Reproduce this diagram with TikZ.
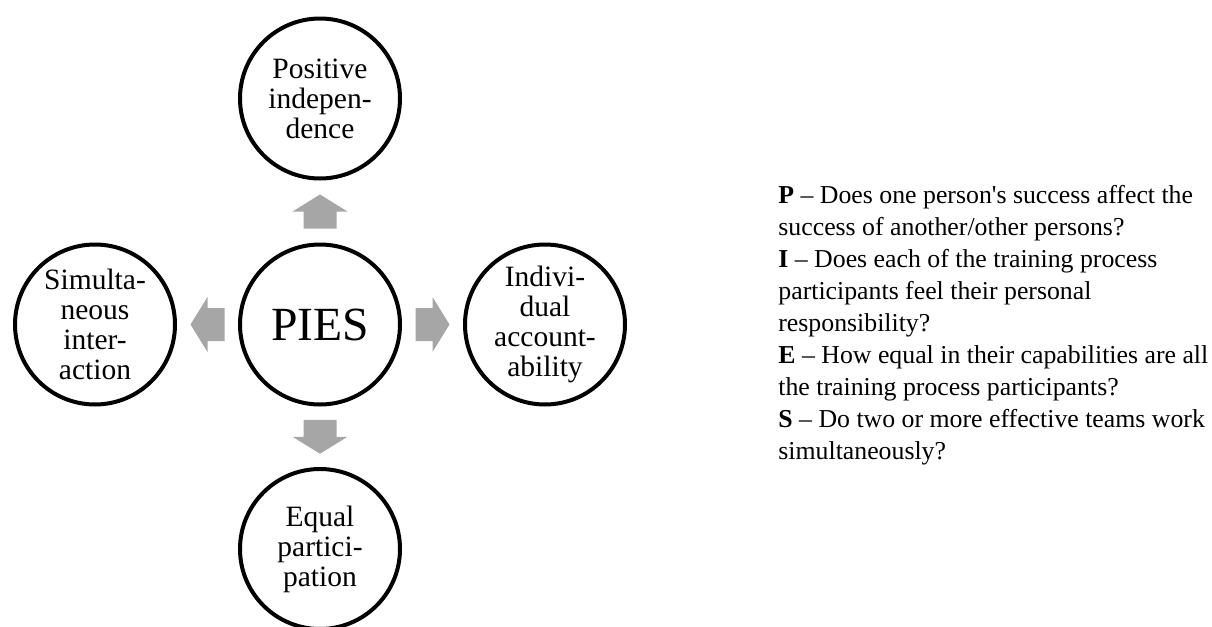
\documentclass[tikz,border=0pt]{standalone}
\usepackage{fontspec}
\setmainfont{Liberation Serif}
\usetikzlibrary{positioning, calc}

\definecolor{arrowgray}{RGB}{166,166,166}

\tikzset{
  part/.style={circle, draw=black, line width=2pt, fill=white, minimum size=80pt,
    inner sep=0pt, align=center, font=\fontsize{14.75}{15}\selectfont},
  hub/.style={part, font=\fontsize{23.8}{28}\selectfont},
  blockarrow/.style={fill=arrowgray}
}

\begin{document}
\begin{tikzpicture}[x=0.5pt, y=-0.5pt]
  \useasboundingbox (0,0) rectangle (1212,627);

  % circles
  \node[hub] (pies) at (320,324.5) {PIES};
  \node[part] (pos) at (320,98.5) {Positive\\indepen-\\dence};
  \node[part] (ind) at (545,324.5) {Indivi-\\dual\\account-\\ability};
  \node[part] (equ) at (320,549) {Equal\\partici-\\pation};
  \node[part] (sim) at (95,324.5) {Simulta-\\neous\\inter-\\action};

  % grey block arrows
  \foreach \dir/\ang in {pos/90, ind/0, equ/-90, sim/180}
    \fill[blockarrow, shift={($(pies)!0.5!(\dir)$)}, rotate=\ang]
      (-17,-16.5) -- (0,-16.5) -- (0,-27.5) -- (17,0) -- (0,27.5) -- (0,16.5) -- (-17,16.5) -- cycle;

  % questions (base = last line)
  \node[anchor=base west, align=left, inner sep=0pt, font=\fontsize{12.9}{16}\selectfont] (quest) at (778,459)
    {\textbf{P} -- Does one person\textquotesingle s success affect the\\
     success of another/other persons?\\
     \textbf{I} -- Does each of the training process\\
     participants feel their personal\\
     responsibility?\\
     \textbf{E} -- How equal in their capabilities are all\\
     the training process participants?\\
     \textbf{S} -- Do two or more effective teams work\\
     simultaneously?};
\end{tikzpicture}
\end{document}
